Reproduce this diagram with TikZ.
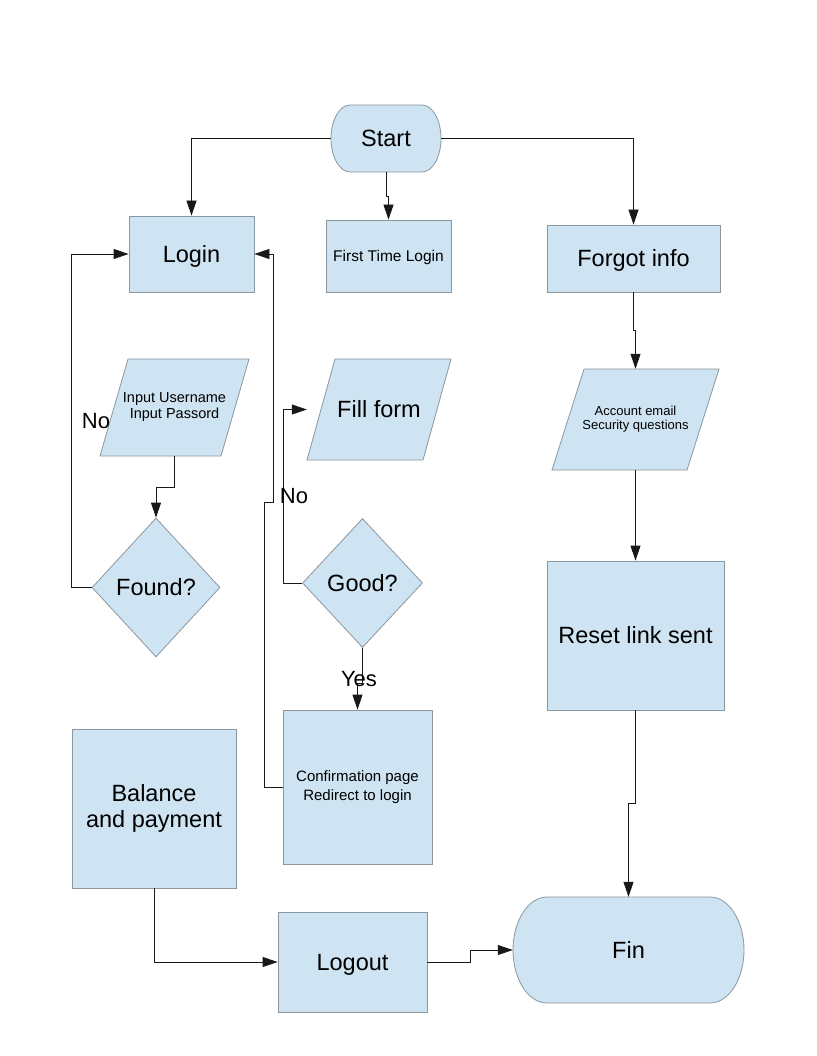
\documentclass[tikz,border=0pt]{standalone}
\usepackage{fontspec}
\setmainfont{Liberation Sans}
\usetikzlibrary{arrows.meta,shapes.geometric}
\definecolor{boxfill}{RGB}{207,228,242}
\definecolor{boxline}{RGB}{140,150,158}
\definecolor{linecol}{RGB}{25,25,25}
\newcommand\fntBig{\fontsize{23.5}{26}\selectfont}
\newcommand\fntLab{\fontsize{22}{24}\selectfont}
\begin{document}
\begin{tikzpicture}[x=1pt,y=-1pt,
  shp/.style={fill=boxfill, draw=boxline, line width=0.8pt},
  box/.style={shp, rectangle, inner sep=0pt, align=center, font=\fntBig},
  dia/.style={shp, diamond, inner sep=0pt, align=center, font=\fntBig},
  txt/.style={rectangle, inner sep=0pt, align=center, font=\fntBig},
  oneline/.style={text height=21.3pt, text depth=5pt},
  lbl/.style={inner sep=0pt, font=\fntLab},
  conn/.style={draw=linecol, line width=0.8pt, -{Triangle[length=15pt,width=10pt]}}
]
\useasboundingbox[fill=white] (0,0) rectangle (816,1056);

% terminal shapes and parallelograms
\path[shp] (350,105) -- (422,105) arc[start angle=90,end angle=-90,x radius=19pt,y radius=33.5pt]
  -- (350,172) arc[start angle=270,end angle=90,x radius=19pt,y radius=33.5pt] -- cycle;
\path[shp] (547,897) -- (710,897) arc[start angle=90,end angle=-90,x radius=34pt,y radius=53pt]
  -- (547,1003) arc[start angle=270,end angle=90,x radius=34pt,y radius=53pt] -- cycle;
\path[shp] (128,359) -- (249,359) -- (221,456) -- (100,456) -- cycle;
\path[shp] (335,359) -- (451,359) -- (423,460) -- (307,460) -- cycle;
\path[shp] (584,369) -- (719,369) -- (687,470) -- (552,470) -- cycle;

% nodes
\node[txt, oneline, minimum width=110pt, minimum height=67pt] (start) at (386,138.5) {Start};
\node[box, oneline, minimum width=125pt, minimum height=76pt] (login) at (191.5,254) {Login};
\node[box, minimum width=125pt, minimum height=72pt, text height=14pt, text depth=3.3pt, font=\fontsize{15.5}{18}\selectfont] (ftl) at (388.5,256) {First Time Login};
\node[box, oneline, minimum width=173pt, minimum height=67pt] (forgot) at (633.5,258.5) {Forgot info};
\node[txt, minimum width=149pt, minimum height=97pt, font=\fontsize{14.5}{16}\selectfont] (inp) at (174.5,407.5) {Input Username\\Input Passord};
\node[txt, oneline, minimum width=144pt, minimum height=101pt] (fill) at (379,409.5) {Fill form};
\node[txt, minimum width=167pt, minimum height=101pt, font=\fontsize{13}{14}\selectfont] (acc) at (635.5,419.5) {Account email\\Security questions};
\node[dia, oneline, minimum width=128pt, minimum height=139pt] (found) at (156,587.5) {Found?};
\node[dia, oneline, minimum width=120pt, minimum height=129pt] (good) at (362.5,583) {Good?};
\node[box, oneline, minimum width=177pt, minimum height=149pt] (reset) at (635.5,635.5) {Reset link sent};
\node[box, minimum width=149pt, minimum height=154pt, font=\fontsize{15}{19}\selectfont] (conf) at (357.5,787) {Confirmation page\\Redirect to login};
\node[box, minimum width=164pt, minimum height=159pt] (bal) at (154,808.5) {Balance\\and payment};
\node[box, oneline, minimum width=149pt, minimum height=100pt] (logout) at (352.5,962) {Logout};
\node[txt, oneline, minimum width=231pt, minimum height=106pt] (fin) at (628.5,950) {Fin};

% connectors
\draw[conn] (start.west) -| (login.north);
\draw[conn] (start.south) -- ++(0,24) -| (ftl.north);
\draw[conn] (start.east) -| (forgot.north);
\draw[conn] (forgot.south) -- ++(0,38) -| (acc.north);
\draw[conn] (acc.south) -- (reset.north);
\draw[conn] (reset.south) -- ++(0,93) -| (fin.north);
\draw[conn] (inp.south) -- ++(0,31) -| (found.north);
\draw[conn] (found.west) -- ++(-20,0) |- (login.west);
\draw[conn] (conf.west) -| (264,502) -- (273,502) |- (login.east);
\draw[conn] (good.west) -- ++(-19,0) |- (fill.west);
\draw[conn] (good.south) -- ++(0,35) -| (conf.north);
\draw[conn] (bal.south) |- (logout.west);
\draw[conn] (logout.east) -- ++(43,0) |- (fin.west);

% labels
\node[lbl] (no1) at (96,421) {No};
\node[lbl] (no2) at (294,496) {No};
\node[lbl] (yes) at (359,679) {Yes};
\end{tikzpicture}
\end{document}
